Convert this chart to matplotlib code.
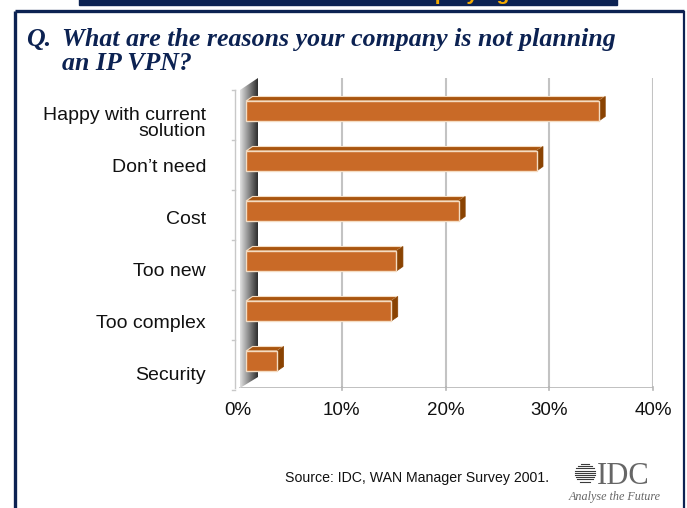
import matplotlib.pyplot as plt
import numpy as np
from matplotlib.patches import Polygon, Rectangle

# data
categories = ['Happy with current\nsolution', "Don\u2019t need", 'Cost', 'Too new', 'Too complex', 'Security']
values = [34, 28, 20.5, 14.5, 14, 3]
xticks = [0, 10, 20, 30, 40]
xticklabels = ['0%', '10%', '20%', '30%', '40%']

navy = '#0c2252'
face = '#c96a27'
top_c = '#a9550f'
side_c = '#8a4302'
edge = '#f4dcc2'

W, H = 687, 508
fig = plt.figure(figsize=(W / 100, H / 100), dpi=100)

# background canvas in pixel units for frame and texts
bg = fig.add_axes([0, 0, 1, 1])
bg.set_xlim(0, W)
bg.set_ylim(H, 0)
bg.axis('off')
bg.add_patch(Rectangle((79, -2), 538, 7, color=navy))
bg.text(510, -0.5, 'Deploying', ha='right', va='baseline', color='#f2a900',
        fontsize=15, fontweight='bold', family='Liberation Sans')
bg.plot([15, 15], [11, H + 2], color=navy, lw=2.4, solid_capstyle='butt')
bg.plot([15, 684], [11, 11], color=navy, lw=2.4, solid_capstyle='butt')
bg.plot([684, 684], [11, H + 2], color=navy, lw=1.6, solid_capstyle='butt')

tfont = dict(family='Liberation Serif', style='italic', fontweight='bold', color=navy, fontsize=18.6)
bg.text(26, 46, 'Q.', va='baseline', **tfont)
bg.text(62, 46, 'What are the reasons your company is not planning', va='baseline', **tfont)
bg.text(62, 70, 'an IP VPN?', va='baseline', **tfont)

bg.text(285, 478, 'Source: IDC, WAN Manager Survey 2001.', va='center', ha='left',
        family='Liberation Sans', fontsize=10.2, color='#111111')

# IDC logo
cx, cy, r = 585, 473, 10
for dy in np.arange(-9, 10, 2.2):
    half = np.sqrt(r ** 2 - dy ** 2)
    bg.plot([cx - half, cx + half], [cy + dy, cy + dy], color='#3a3a3a', lw=0.8)
bg.text(597, 484, 'IDC', family='Liberation Serif', fontsize=22, color='#666666', va='baseline')
bg.text(615, 497, 'Analyse the Future', family='Liberation Serif', style='italic',
        fontsize=8.7, color='#666666', ha='center', va='center')

# chart axes: x 0..40 -> px 238..653, y px 78..388
x0p, x1p, y0p, y1p = 238, 653, 78, 388
ax = fig.add_axes([x0p / W, 1 - y1p / H, (x1p - x0p) / W, (y1p - y0p) / H])
ax.patch.set_alpha(0)
ppx = (x1p - x0p) / 40.0
ax.set_xlim(0, 40)
ytop = (y0p - 111) / 50.0
ybot = (y1p - 111) / 50.0
ax.set_ylim(ybot, ytop)
for s in ax.spines.values():
    s.set_visible(False)

# back-wall gridlines
for xv in xticks[1:]:
    ax.plot([xv, xv], [ytop, ybot], color='#c3c3c3', lw=1.5, zorder=1)
ax.plot([0.2, 40], [ybot, ybot], color='#b5b5b5', lw=1.2, zorder=1)
for xv in xticks[1:]:
    ax.plot([xv, xv], [ybot - 0.03, ybot + 0.04], color='#b5b5b5', lw=1.2, clip_on=False)

# side wall with gradient
wx0, wx1 = (240 - x0p) / ppx, (258 - x0p) / ppx
wall = Polygon([(wx0, (90 - 111) / 50), (wx1, ytop), (wx1, (377 - 111) / 50), (wx0, ybot)],
               closed=True, facecolor='none', edgecolor='none')
ax.add_patch(wall)
grad = np.linspace(0.88, 0.18, 64).reshape(1, -1)
im = ax.imshow(grad, cmap='gray', vmin=0, vmax=1, extent=[wx0, wx1, ybot, ytop],
               aspect='auto', zorder=2)
im.set_clip_path(wall)

# category axis line with small ticks
lx = (235 - x0p) / ppx
ax.plot([lx, lx], [(90 - 111) / 50, ybot], color='#c8c8c8', lw=1, clip_on=False)
for i in range(7):
    yy = (90 + 50 * i - 111) / 50
    ax.plot([lx - 0.3, lx], [yy, yy], color='#c8c8c8', lw=1, clip_on=False)

# 3d bars
off = (246 - x0p) / ppx
h = 0.4
ddx = 6.5 / ppx
ddy = 4.5 / 50
for i, v in enumerate(values):
    yt, yb = i - h / 2, i + h / 2
    xs, xe = off, off + v
    ax.add_patch(Polygon([(xs, yt), (xs + ddx, yt - ddy), (xe + ddx, yt - ddy), (xe, yt)],
                         closed=True, facecolor=top_c, edgecolor=edge, lw=0.8, zorder=3))
    ax.add_patch(Polygon([(xe, yt), (xe + ddx, yt - ddy), (xe + ddx, yb - ddy), (xe, yb)],
                         closed=True, facecolor=side_c, edgecolor=side_c, lw=0.5, zorder=3))
    ax.add_patch(Rectangle((xs, yt), v, h, facecolor=face, edgecolor=edge, lw=1.0, zorder=4))

# labels
lab_px = [122] + [113 + 52 * i for i in range(1, len(categories))]
ax.set_yticks([(p - 111) / 50 for p in lab_px])
ax.set_yticklabels(categories, family='Liberation Sans', fontsize=14, color='#111111',
                   linespacing=0.92)
ax.set_xticks(xticks)
ax.set_xticklabels(xticklabels, family='Liberation Sans', fontsize=13.5, color='#111111')
ax.tick_params(axis='y', length=0, pad=23)
ax.tick_params(axis='x', length=0, pad=10)

fig.savefig('out.png', dpi=100)
